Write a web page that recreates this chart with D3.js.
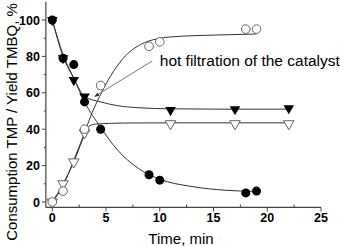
<!DOCTYPE html>
<html>
<head>
<meta charset="utf-8">
<script src="https://cdn.jsdelivr.net/npm/d3@7"></script>
<style>
  html, body { margin: 0; padding: 0; background: #fff; }
  svg { display: block; }
  text { font-family: Arial, "Liberation Sans", sans-serif; }
</style>
</head>
<body>
<svg id="chart" width="340" height="246"></svg>
<script>
// measured points [time, %]
let tmpCircles = [[0,100],[1,79],[2,75.5],[3,55],[4.5,40],[9,15],[10,12],[18,5],[19,6]];
let tmpTriangles = [[0,100],[1,79],[2,67],[3,58],[11,50.5],[17,51],[22,51.5]];
let tmbqCircles = [[0,0],[1,6],[3,40],[4.5,64],[9,85.5],[10,88],[18,95],[19,95]];
let tmbqTriangles = [[0,0],[1,10],[2,22],[3,38],[11,43],[17,43],[22,43]];

// fitted curves
let fitTmpCircles = [[0,100],[1,81],[2,68],[3,55],[4.5,41],[6,29],[8,18.5],[10,12.5],[13,8.5],[16,6.5],[19,5.8]];
let fitTmpTriangles = [[0,100],[1,80],[2,68],[3,58],[4.5,55],[6,53],[8,51.8],[11,51.2],[16,51],[22,51]];
let fitTmbqCircles = [[0,0],[1,9],[2,23],[3,38],[3.7,49],[4.4,58],[5.4,69],[6.6,79],[8.2,86.5],[9.7,89.6],[11,90.7],[15.6,91.8],[19,92.3]];
let fitTmbqTriangles = [[0,0],[1,10],[2,22],[2.8,34],[3.3,41],[4,42.8],[6.7,43.4],[11,43.5],[22,43.5]];

let xTicks = [0,5,10,15,20,25];
let yTicks = [0,20,40,60,80,100];
let noteText = "hot filtration of the catalyst";
let notePoint = [3.95, 58];
let noteTail = [9.3, 77.5];

let svg = d3.select("#chart");
let x = d3.scaleLinear().domain([0,25]).range([52.3,321]);
let y = d3.scaleLinear().domain([0,100]).range([202,20]);
let axisColour = "#444";

//axes lines
svg.append("line")
    .attr("x1",x(-0.6)).attr("x2",x(-0.6))
    .attr("y1",y(-3)).attr("y2",y(110))
    .attr("stroke",axisColour).attr("stroke-width",1.2);
svg.append("line")
    .attr("x1",x(-0.6)).attr("x2",x(25))
    .attr("y1",y(-3)).attr("y2",y(-3))
    .attr("stroke",axisColour).attr("stroke-width",1.2);

//y ticks
let yMinor = d3.range(10,110,20);
svg.selectAll(".ymaj").data(yTicks).enter().append("line")
    .attr("x1",x(-0.6)).attr("x2",x(-0.6)-4)
    .attr("y1",d => y(d)).attr("y2",d => y(d))
    .attr("stroke",axisColour);
svg.selectAll(".ymin").data(yMinor).enter().append("line")
    .attr("x1",x(-0.6)).attr("x2",x(-0.6)-2)
    .attr("y1",d => y(d)).attr("y2",d => y(d))
    .attr("stroke",axisColour);
svg.selectAll(".ylab").data(yTicks).enter().append("text")
    .attr("x",x(-0.6)-6).attr("y",d => y(d))
    .attr("dy","0.36em")
    .attr("text-anchor","end")
    .style("font-size","12.5px").style("font-weight","bold")
    .text(d => d);

//x ticks
let xMinor = d3.range(2.5,25,5);
let xAxisY = y(-3);
svg.selectAll(".xmaj").data(xTicks).enter().append("line")
    .attr("x1",d => x(d)).attr("x2",d => x(d))
    .attr("y1",xAxisY).attr("y2",xAxisY+4)
    .attr("stroke",axisColour);
svg.selectAll(".xmin").data(xMinor).enter().append("line")
    .attr("x1",d => x(d)).attr("x2",d => x(d))
    .attr("y1",xAxisY).attr("y2",xAxisY-3)
    .attr("stroke",axisColour);
svg.selectAll(".xlab").data(xTicks).enter().append("text")
    .attr("x",d => x(d)).attr("y",222)
    .attr("text-anchor","middle")
    .style("font-size","12.5px").style("font-weight","bold")
    .text(d => d);

//axis titles
svg.append("text")
    .attr("x",181).attr("y",243.5)
    .attr("text-anchor","middle")
    .style("font-size","15px")
    .text("Time, min");
svg.append("text")
    .attr("transform","translate(17,122) rotate(-90)")
    .attr("text-anchor","middle")
    .style("font-size","15px")
    .text("Consumption TMP / Yield TMBQ, %");

//fit curves
let line = d3.line().x(d => x(d[0])).y(d => y(d[1])).curve(d3.curveMonotoneX);
[fitTmpCircles,fitTmpTriangles,fitTmbqCircles,fitTmbqTriangles].forEach(f => {
    svg.append("path").datum(f)
        .attr("d",line)
        .attr("fill","none")
        .attr("stroke","#333")
        .attr("stroke-width",1);
});

//annotation
svg.append("defs").append("marker")
    .attr("id","head")
    .attr("viewBox","0 0 10 10")
    .attr("refX",9).attr("refY",5)
    .attr("markerWidth",6).attr("markerHeight",6)
    .attr("orient","auto")
    .append("path").attr("d","M0,1 L10,5 L0,9 Z").attr("fill","#333");
svg.append("line")
    .attr("x1",x(noteTail[0])).attr("y1",y(noteTail[1]))
    .attr("x2",x(notePoint[0])).attr("y2",y(notePoint[1]))
    .attr("stroke","#555").attr("stroke-width",0.8)
    .attr("marker-end","url(#head)");
svg.append("text")
    .attr("x",x(10)).attr("y",y(74.5))
    .style("font-size","15.5px")
    .text(noteText);

//markers
let tri = d3.symbol().type(d3.symbolTriangle).size(48);
let pos = d => "translate(" + x(d[0]) + "," + y(d[1]) + ") rotate(180)";

svg.selectAll(".otri").data(tmbqTriangles).enter().append("path")
    .attr("d",tri).attr("transform",pos)
    .attr("fill","#fff").attr("stroke","#666").attr("stroke-width",1);
svg.selectAll(".ocirc").data(tmbqCircles).enter().append("circle")
    .attr("cx",d => x(d[0])).attr("cy",d => y(d[1])).attr("r",4.3)
    .attr("fill","#fff").attr("stroke","#666").attr("stroke-width",1);
svg.selectAll(".ftri").data(tmpTriangles).enter().append("path")
    .attr("d",tri).attr("transform",pos)
    .attr("fill","#000");
svg.selectAll(".fcirc").data(tmpCircles).enter().append("circle")
    .attr("cx",d => x(d[0])).attr("cy",d => y(d[1])).attr("r",4.5)
    .attr("fill","#000");
</script>
</body>
</html>
